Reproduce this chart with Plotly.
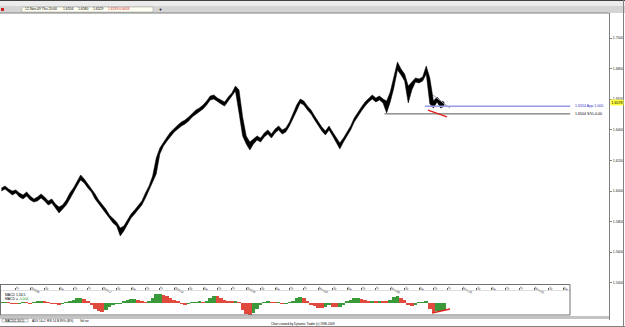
import plotly.graph_objects as go

# ---------------- data ----------------
bar_step_days = 0.25  # 6-hour samples, trading-day units (day 0 = Thu 1-Oct-09)

price_high = [
    1.6020, 1.6033, 1.6013, 1.6000, 1.6007, 1.5987, 1.5974, 1.5994, 1.5967, 1.5948,
    1.5961, 1.5981, 1.5961, 1.5935, 1.5948, 1.5915, 1.5895, 1.5909, 1.5941, 1.5987,
    1.6020, 1.6065, 1.6105, 1.6079, 1.6046, 1.6020, 1.5981, 1.5941, 1.5915, 1.5882,
    1.5843, 1.5817, 1.5797, 1.5758, 1.5771, 1.5810, 1.5850, 1.5876, 1.5909, 1.5935,
    1.5987, 1.6033, 1.6098, 1.6216, 1.6281, 1.6320, 1.6353, 1.6386, 1.6412, 1.6431,
    1.6451, 1.6464, 1.6484, 1.6510, 1.6529, 1.6543, 1.6562, 1.6588, 1.6621, 1.6628,
    1.6608, 1.6595, 1.6582, 1.6614, 1.6641, 1.6686, 1.6660, 1.6484, 1.6360, 1.6320,
    1.6340, 1.6360, 1.6346, 1.6379, 1.6399, 1.6373, 1.6405, 1.6425, 1.6399, 1.6412,
    1.6451, 1.6503, 1.6562, 1.6601, 1.6588, 1.6556, 1.6529, 1.6490, 1.6451, 1.6418,
    1.6392, 1.6425, 1.6386, 1.6346, 1.6314, 1.6346, 1.6386, 1.6425, 1.6477, 1.6516,
    1.6549, 1.6582, 1.6608, 1.6628, 1.6608, 1.6621, 1.6601, 1.6588, 1.6647, 1.6752,
    1.6843, 1.6797, 1.6765, 1.6686, 1.6712, 1.6739, 1.6732, 1.6745, 1.6817, 1.6739,
    1.6588, 1.6614, 1.6588, 1.6582,
]
price_low = [
    1.6000, 1.6013, 1.5993, 1.5974, 1.5987, 1.5961, 1.5948, 1.5967, 1.5941, 1.5928,
    1.5935, 1.5954, 1.5935, 1.5908, 1.5921, 1.5889, 1.5856, 1.5882, 1.5908, 1.5948,
    1.5993, 1.6033, 1.6072, 1.6052, 1.6020, 1.5993, 1.5948, 1.5915, 1.5889, 1.5850,
    1.5817, 1.5791, 1.5771, 1.5706, 1.5739, 1.5784, 1.5823, 1.5850, 1.5882, 1.5908,
    1.5954, 1.6007, 1.6052, 1.6111, 1.6242, 1.6294, 1.6327, 1.6359, 1.6386, 1.6405,
    1.6425, 1.6438, 1.6457, 1.6484, 1.6503, 1.6516, 1.6536, 1.6562, 1.6595, 1.6601,
    1.6582, 1.6569, 1.6555, 1.6588, 1.6614, 1.6654, 1.6510, 1.6359, 1.6307, 1.6268,
    1.6307, 1.6333, 1.6320, 1.6353, 1.6372, 1.6346, 1.6379, 1.6399, 1.6372, 1.6386,
    1.6425, 1.6471, 1.6523, 1.6575, 1.6562, 1.6529, 1.6503, 1.6464, 1.6425, 1.6392,
    1.6366, 1.6399, 1.6359, 1.6320, 1.6275, 1.6320, 1.6359, 1.6399, 1.6451, 1.6490,
    1.6523, 1.6555, 1.6582, 1.6601, 1.6582, 1.6595, 1.6575, 1.6510, 1.6582, 1.6673,
    1.6791, 1.6758, 1.6719, 1.6575, 1.6660, 1.6712, 1.6706, 1.6719, 1.6765, 1.6569,
    1.6542, 1.6582, 1.6542, 1.6555,
]
# MACD(1,34,5) histogram, in thousandths
macd_milli = [
    0.2, 0.4, 0.1, -0.2, -0.3, -0.1, 0.2, 0.1, -0.2,
    0.4, 0.8, 0.9, 0.6,
    0.2, -0.2, -0.5, -0.7, -0.4, 0.1,
    0.8, 1.6, 2.3, 2.6, 2.0, 1.0,
    -0.8, -2.8, -4.2, -4.5, -3.6, -2.2,
    -1.0, -0.4, -0.2,
    0.6, 1.4, 2.0, 2.2, 1.7, 0.9,
    0.4, 0.8,
    2.5, 4.3, 4.6, 4.0, 3.3, 2.5, 1.6,
    0.8,
    -0.3, -0.6, -0.4,
    0.3, 0.5, 0.6, 0.4,
    1.2, 2.6, 3.6, 3.3, 2.4, 1.5,
    0.8, 0.6, 0.9,
    0.2,
    -3.5, -5.6, -5.8, -4.8, -2.8,
    -1.2,
    0.3, 0.7, 0.4,
    0.1, 0.2, -0.2, -0.1, 0.3,
    1.2, 2.6, 3.1, 2.4, 1.2,
    -0.6, -1.6, -2.4, -2.6, -2.0, -1.2, -1.8,
    -2.2, -1.9, -0.8,
    0.6, 1.6, 2.3, 2.6, 2.2, 1.4,
    1.0, 1.2, 0.9, 1.1, 1.0, 0.6,
    1.6, 3.0, 3.6, 2.6,
    1.4,
    -1.2, -1.6,
    -0.6, 0.2, 0.5, 0.6,
    -3.0, -4.5, -4.0, -3.8, -3.5,
]

price_ticks = [1.54, 1.56, 1.58, 1.60, 1.62, 1.64, 1.66, 1.68, 1.70]
price_tick_text = ["1.5400", "1.5600", "1.5800", "1.6000", "1.6200",
                   "1.6400", "1.6600", "1.6800", "1.7000"]
last_price = 1.6578

day_ticks = list(range(1, 40))
day_tick_text = ["Fr",
                 "Oct/05", "Tu", "We", "Th", "Fr",
                 "Oct/12", "Tu", "We", "Th", "Fr",
                 "Oct/19", "Tu", "We", "Th", "Fr",
                 "Oct/26", "Tu", "We", "Th", "Fr",
                 "Nov/02", "Tu", "We", "Th", "Fr",
                 "Nov/09", "Tu", "We", "Th", "Fr",
                 "Nov/16", "Tu", "We", "Th", "Fr",
                 "Nov/23", "Tu", "We"]

level_prices = [1.6554, 1.6504]
level_start_days = [29.4, 26.6]
level_end_day = 39.5
level_labels = ["1.6554 App 1.000", "1.6504 S/V+0.00"]

trend_price_days = [29.62, 30.94]
trend_price_vals = [1.6529, 1.6484]
trend_gray_days = [29.97, 31.15]
trend_gray_vals = [1.6627, 1.6542]
trend_macd_days = [29.9, 31.15]
trend_macd_vals = [-0.0050, -0.0030]

info_texts = ["12-Nov-09 Thu 20:00", "1.6556", "1.6580", "1.6529", "1.6539", "-0.0003"]

# ---------------- geometry helpers ----------------
W, H = 625, 327
PL, PR, PT, PB = 0, 609, 13, 320   # plot area in pixels
PXD = 14.4                         # pixels per trading day
X0 = -0.1                          # day at left edge


def PX(x):
    return (x - PL) / (PR - PL)


def PY(y):
    return (PB - y) / (PB - PT)


# price scale: 1.7000 at y=38, 1530 px per unit
y_top = 1.70 + (38 - PT) / 1530
y_bot = 1.70 - (PB - 38) / 1530

days = [i * bar_step_days for i in range(len(price_high))]
macd_vals = [v / 1000 for v in macd_milli]
macd_colors = []
for i, v in enumerate(macd_vals):
    prev = macd_vals[i - 1] if i > 0 else v
    macd_colors.append("#3a9a3a" if v >= prev else "#e04a3c")

FONT = "Liberation Sans"
fig = go.Figure()

# price band (high/low)
fig.add_trace(go.Scatter(x=days, y=price_low, mode="lines",
                         line=dict(color="#000000", width=0.5), showlegend=False,
                         hoverinfo="skip"))
fig.add_trace(go.Scatter(x=days, y=price_high, mode="lines", fill="tonexty",
                         fillcolor="#000000", line=dict(color="#000000", width=0.5),
                         showlegend=False, hoverinfo="skip"))

# level lines
level_colors = ["#9a9ae8", "#555555"]
level_text_colors = ["#3030c0", "#000000"]
level_widths = [1.4, 1]
for p, sd, lab, c, tc, w in zip(level_prices, level_start_days, level_labels,
                                level_colors, level_text_colors, level_widths):
    fig.add_trace(go.Scatter(x=[sd, level_end_day], y=[p, p], mode="lines",
                             line=dict(color=c, width=w), showlegend=False, hoverinfo="skip"))
    fig.add_annotation(x=level_end_day + 0.2, y=p, xref="x", yref="y", text=lab,
                       showarrow=False, xanchor="left", yanchor="middle",
                       font=dict(family=FONT, size=3.6, color=tc))

# trend lines
fig.add_trace(go.Scatter(x=trend_gray_days, y=trend_gray_vals, mode="lines",
                         line=dict(color="#a0a0b8", width=1), showlegend=False, hoverinfo="skip"))
fig.add_trace(go.Scatter(x=trend_price_days, y=trend_price_vals, mode="lines",
                         line=dict(color="#e02020", width=1.3), showlegend=False, hoverinfo="skip"))

# MACD histogram
fig.add_trace(go.Bar(x=days, y=macd_vals, width=bar_step_days,
                     marker=dict(color=macd_colors, line=dict(width=0)),
                     xaxis="x2", yaxis="y2", showlegend=False, hoverinfo="skip"))
fig.add_trace(go.Scatter(x=trend_macd_days, y=trend_macd_vals, mode="lines",
                         line=dict(color="#e02020", width=1.3), xaxis="x2", yaxis="y2",
                         showlegend=False, hoverinfo="skip"))

x_right_day = X0 + (PR - PL) / PXD
x2_right_day = X0 + 570 / PXD

shapes = []


def rect(x0, y0, x1, y1, fill, line_color=None, lw=0):
    shapes.append(dict(type="rect", xref="paper", yref="paper", x0=PX(x0), x1=PX(x1),
                       y0=PY(y1), y1=PY(y0), fillcolor=fill,
                       line=dict(color=line_color or fill, width=lw), layer="below"))


def hline(x0, x1, y, color, w=1, layer="above"):
    shapes.append(dict(type="line", xref="paper", yref="paper", x0=PX(x0), x1=PX(x1),
                       y0=PY(y), y1=PY(y), line=dict(color=color, width=w), layer=layer))


def vline(x, y0, y1, color, w=1):
    shapes.append(dict(type="line", xref="paper", yref="paper", x0=PX(x), x1=PX(x),
                       y0=PY(y0), y1=PY(y1), line=dict(color=color, width=w), layer="above"))


# header
rect(0, 0, 625, 6, "#ebebeb")
rect(0, 6, 625, 13, "#d4d4d4")
rect(22, 7, 153, 12, "#fffff2", "#9a9a9a", 0.5)
rect(1, 8, 4, 11, "#d02020")
hline(0, 625, 0.5, "#404040", 1)
hline(0, 609, 13, "#808080", 1)
# lower panel frame
rect(0, 284, 570, 315, "#ffffff")
hline(0, 570, 284.5, "#707070", 1)
hline(0, 570, 290.5, "#c8c8c8", 0.6)
hline(0, 570, 315, "#707070", 1)
vline(570, 284.5, 315, "#707070", 1)
vline(0.5, 284.5, 315, "#707070", 1)
# footer
rect(0, 316, 609, 319, "#c4c4c4")
rect(0, 319, 625, 327, "#ffffff")
rect(2, 319, 28, 322, "#ffffff", "#808080", 0.5)
hline(0, 625, 326.5, "#808080", 1)
vline(623.5, 0, 326.5, "#808080", 1)

annotations = []


def text(x, y, s, size=3.6, color="#000000", anchor="left", bold=False):
    annotations.append(dict(x=PX(x), y=PY(y), xref="paper", yref="paper",
                            text=("<b>%s</b>" % s) if bold else s, showarrow=False,
                            xanchor=anchor, yanchor="middle",
                            font=dict(family=FONT, size=size, color=color)))


text(312, 3.8, "GBPUSD_H1 60-3", size=4.6, anchor="center", bold=True)
text(5, 9.5, "L F R", size=3.2, color="#404040")
info_x = [23, 61, 76, 91, 106, 116]
info_c = ["#000000", "#000000", "#000000", "#000000", "#d02020", "#d02020"]
for xx, s, c in zip(info_x, info_texts, info_c):
    text(xx, 9.5, s, size=3.4, color=c)
text(157, 9.5, "+", size=5, bold=True)
text(3, 295, "MACD 1,34,5", size=3.4)
text(3, 299, "MACD = <span style='color:#2a9a2a'>-0.004</span>", size=3.4)
text(3, 320.5, "MACD(1,34,5)", size=3)
text(30, 320.5, "ADX 14+2", size=3)
text(45, 320.5, "RSI 14 B 89% (B%)", size=3)
text(78, 320.5, "Vol rat", size=3)
text(303, 323.5, "Chart created by Dynamic Trader (c) 1996-2009", size=3, anchor="center")

annotations.append(dict(x=1, y=last_price, xref="paper", yref="y", text="1.6578",
                        showarrow=False, xanchor="left", yanchor="middle", xshift=1,
                        bgcolor="#ffff40", borderpad=0.5,
                        font=dict(family=FONT, size=3.6, color="#000000")))

fig.update_layout(
    width=W, height=H,
    margin=dict(l=PL, r=W - PR, t=PT, b=H - PB, pad=0),
    paper_bgcolor="#ffffff", plot_bgcolor="#ffffff",
    showlegend=False, bargap=0,
    xaxis=dict(domain=[0, 1], range=[X0, x_right_day], showticklabels=False, showgrid=False,
               zeroline=False, showline=False, ticks="", fixedrange=True),
    yaxis=dict(domain=[0, 1], range=[y_bot, y_top], side="right", tickvals=price_ticks,
               ticktext=price_tick_text, tickfont=dict(family=FONT, size=3.6, color="#202020"),
               ticks="outside", ticklen=2, tickcolor="#808080", showline=True,
               linecolor="#808080", linewidth=1, showgrid=False, zeroline=False),
    xaxis2=dict(domain=[0, 570 / (PR - PL)], range=[X0, x2_right_day], anchor="y2", side="top",
                tickvals=day_ticks, ticktext=day_tick_text, ticks="outside", ticklen=2,
                tickcolor="#606060", ticklabelposition="outside right",
                tickfont=dict(family=FONT, size=3.4, color="#202020"),
                showgrid=False, zeroline=False, showline=False),
    yaxis2=dict(domain=[PY(315), PY(291)], range=[-0.006, 0.006], visible=False,
                showgrid=False, zeroline=False),
    shapes=shapes,
    annotations=annotations,
)

fig.write_html("out.html")
